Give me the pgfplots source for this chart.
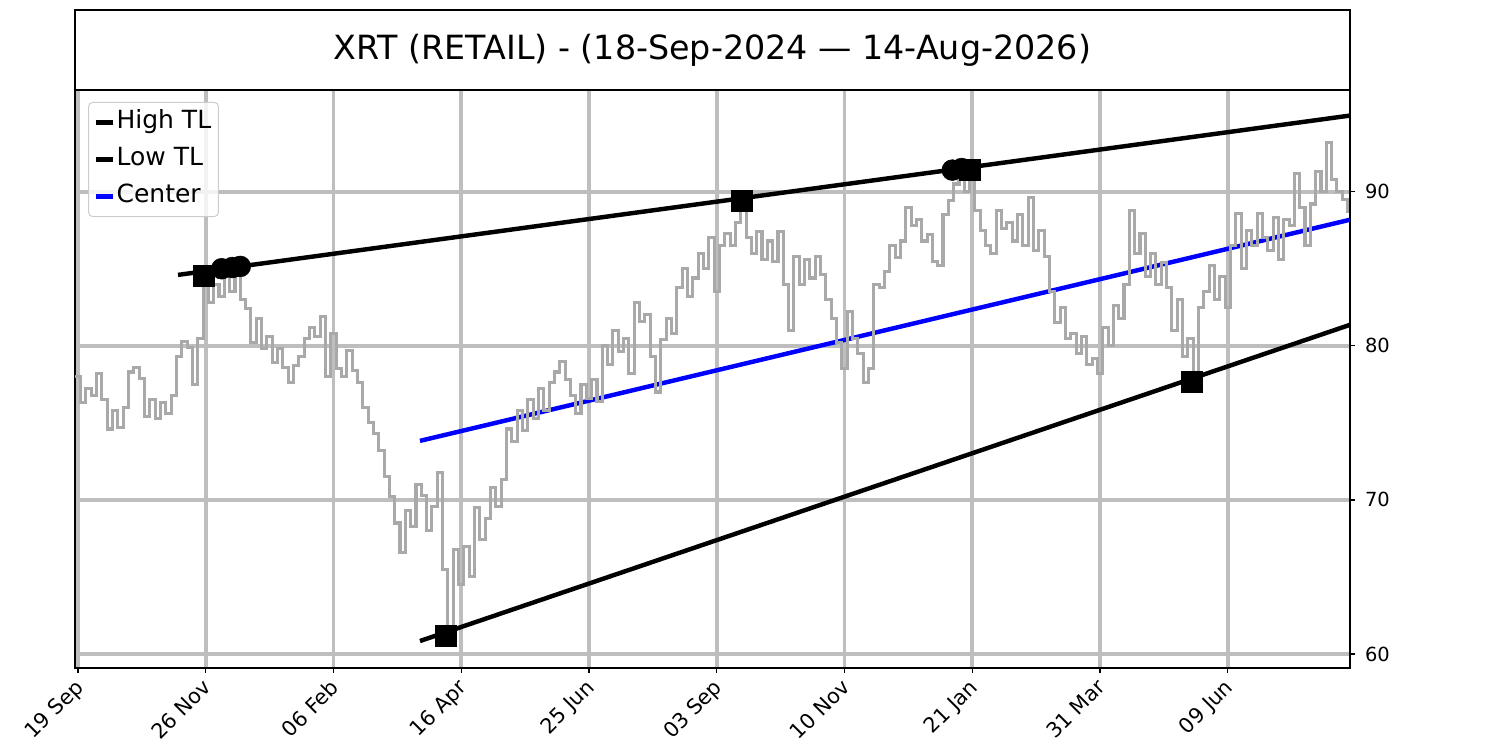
\documentclass[border=0pt]{standalone}
\usepackage{fontspec}
\setmainfont{DejaVu Sans}
\usepackage{pgfplots}
\pgfplotsset{compat=1.18}
\definecolor{gridc}{RGB}{190,190,190}
\definecolor{pricec}{RGB}{169,169,169}
\definecolor{legc}{RGB}{204,204,204}
\begin{document}
\begin{tikzpicture}
\path[use as bounding box] (0,0) rectangle (1080pt,540pt);
\begin{axis}[
 at={(54pt,59.04pt)}, anchor=south west, scale only axis,
 width=918pt, height=416.16pt,
 xmin=-0.1, xmax=478.9, ymin=59.09, ymax=96.6,
 xtick={1,49,97,145,193,241,289,337,385,433},
 xticklabels={19 Sep,26 Nov,06 Feb,16 Apr,25 Jun,03 Sep,10 Nov,21 Jan,31 Mar,09 Jun},
 ytick={60,70,80,90},
 xtick pos=bottom, ytick pos=right, yticklabel pos=right,
 tick align=outside, major tick length=3.6pt,
 tick style={line width=0.9pt, black},
 axis line style={line width=0.9pt},
 xmajorgrids, ymajorgrids,
 major grid style={line width=2.8pt, gridc},
 /pgf/number format/assume math mode=true,
 yticklabel style={font=\fontsize{14}{17}\selectfont, inner sep=0pt, xshift=7pt},
 xticklabel style={font=\fontsize{15}{18}\selectfont, rotate=45, anchor=north east, inner sep=0pt, xshift=-4.5pt, yshift=0pt},
 legend style={at={(0,1)}, anchor=north west, xshift=9.4pt, yshift=-8.6pt,
   draw=legc, line width=0.7pt, rounded corners=3pt, fill=white, fill opacity=0.8,
   text opacity=1, draw opacity=1, font=\fontsize{18}{21}\selectfont,
   inner xsep=4pt, inner ysep=6pt, row sep=9.6pt, cells={anchor=west},
   nodes={inner xsep=1.2pt, inner ysep=0pt, text height=13pt, text depth=4pt}},
]
\addplot[black, line width=3.2pt, legend image code/.code={\draw[black,line width=3pt](0pt,0pt)--(12pt,0pt);}]
  coordinates {(38.6,84.6) (478.9,94.94)};
\addlegendentry{High TL}
\addplot[black, line width=3.2pt, legend image code/.code={\draw[black,line width=3pt](0pt,0pt)--(12pt,0pt);}]
  coordinates {(129.5,60.84) (478.9,81.36)};
\addlegendentry{Low TL}
\addplot[blue, line width=3.2pt, legend image code/.code={\draw[blue,line width=3pt](0pt,0pt)--(12pt,0pt);}]
  coordinates {(129.5,73.83) (478.9,88.18)};
\addlegendentry{Center}
\addplot[pricec, line width=2.2pt, const plot, forget plot] coordinates {
(0,78.0) (2,76.3) (4,77.2) (6,76.8) (8,78.2) (10,76.5) (12,74.6) (14,75.8) (16,74.7) (18,76.0)
(20,78.3) (22,78.6) (24,77.9) (26,75.4) (28,76.5) (30,75.3) (32,76.3) (34,75.6) (36,76.8) (38,79.3)
(40,80.3) (42,79.9) (44,77.5) (46,80.5) (48,84.3) (50,82.8) (52,84.0) (54,83.2) (56,84.5) (58,83.5)
(60,84.6) (62,83.0) (64,82.4) (66,80.2) (68,81.8) (70,79.8) (72,80.6) (74,78.9) (76,79.8) (78,78.6)
(80,77.6) (82,78.7) (84,79.3) (86,80.5) (88,81.2) (90,80.6) (92,81.9) (94,78.0) (96,80.8) (98,78.5)
(100,78.0) (102,79.7) (104,78.4) (106,77.6) (108,76.0) (110,75.0) (112,74.3) (114,73.2) (116,71.5) (118,70.2)
(120,68.5) (122,66.6) (124,69.3) (126,68.3) (128,71.0) (130,70.3) (132,68.0) (134,69.6) (136,71.8) (138,65.5)
(140,61.4) (142,66.8) (144,64.5) (146,67.0) (148,65.0) (150,69.5) (152,67.4) (154,68.8) (156,70.8) (158,69.6)
(160,71.3) (162,74.6) (164,73.8) (166,75.8) (168,74.5) (170,76.5) (172,75.3) (174,77.2) (176,75.8) (178,77.6)
(180,78.3) (182,79.0) (184,77.8) (186,76.8) (188,75.6) (190,77.5) (192,76.6) (194,77.8) (196,76.4) (198,80.0)
(200,78.8) (202,81.0) (204,79.6) (206,80.5) (208,78.2) (210,82.8) (212,81.6) (214,82.0) (216,79.3) (218,77.0)
(220,80.4) (222,81.8) (224,80.8) (226,83.8) (228,85.0) (230,83.2) (232,84.4) (234,86.0) (236,85.0) (238,87.0)
(240,83.5) (242,86.5) (244,87.3) (246,86.5) (248,88.0) (250,89.0) (252,87.0) (254,86.0) (256,87.4) (258,85.6)
(260,86.8) (262,85.5) (264,87.4) (266,84.0) (268,81.0) (270,85.8) (272,84.0) (274,85.6) (276,84.4) (278,85.8)
(280,84.6) (282,83.0) (284,81.8) (286,80.2) (288,78.5) (290,82.2) (292,80.5) (294,79.5) (296,77.6) (298,78.5)
(300,84.0) (302,83.8) (304,84.8) (306,86.5) (308,85.7) (310,86.8) (312,89.0) (314,87.8) (316,88.2) (318,86.8)
(320,87.2) (322,85.5) (324,85.2) (326,88.5) (328,89.4) (330,90.5) (332,91.2) (334,90.0) (336,91.0) (338,88.8)
(340,87.5) (342,86.5) (344,86.0) (346,88.8) (348,87.6) (350,88.0) (352,86.8) (354,88.5) (356,86.5) (358,89.6)
(360,86.2) (362,87.5) (364,85.8) (366,83.5) (368,81.5) (370,82.5) (372,80.5) (374,80.8) (376,79.5) (378,80.6)
(380,78.8) (382,79.2) (384,78.2) (386,81.2) (388,80.0) (390,82.6) (392,81.8) (394,84.0) (396,88.8) (398,86.0)
(400,87.3) (402,84.5) (404,86.0) (406,84.0) (408,85.4) (410,83.8) (412,81.0) (414,83.0) (416,79.3) (418,80.5)
(420,77.8) (422,82.5) (424,83.5) (426,85.2) (428,83.0) (430,84.5) (432,82.5) (434,86.5) (436,88.6) (438,85.0)
(440,87.5) (442,86.5) (444,88.6) (446,87.0) (448,86.2) (450,88.3) (452,85.6) (454,88.2) (456,87.8) (458,91.2)
(460,89.0) (462,86.5) (464,89.2) (466,91.3) (468,90.0) (470,93.2) (472,90.8) (474,90.0) (476,89.5) (478,88.6)
};
\addplot[only marks, mark=square*, mark size=7.5pt, black, forget plot]
  coordinates {(48.4,84.55) (250.4,89.42) (336,91.4) (139.2,61.17) (419.5,77.66)};
\addplot[only marks, mark=*, mark size=7.5pt, black, forget plot]
  coordinates {(55,85.0) (59,85.08) (62,85.15) (329.5,91.4) (333,91.5)};
\end{axis}
\draw[line width=0.9pt] (54pt,475.2pt) rectangle (972pt,532.8pt);
\node[font=\fontsize{24}{29}\selectfont] at (513pt,504pt) {XRT (RETAIL) - (18-Sep-2024 — 14-Aug-2026)};
\end{tikzpicture}
\end{document}
